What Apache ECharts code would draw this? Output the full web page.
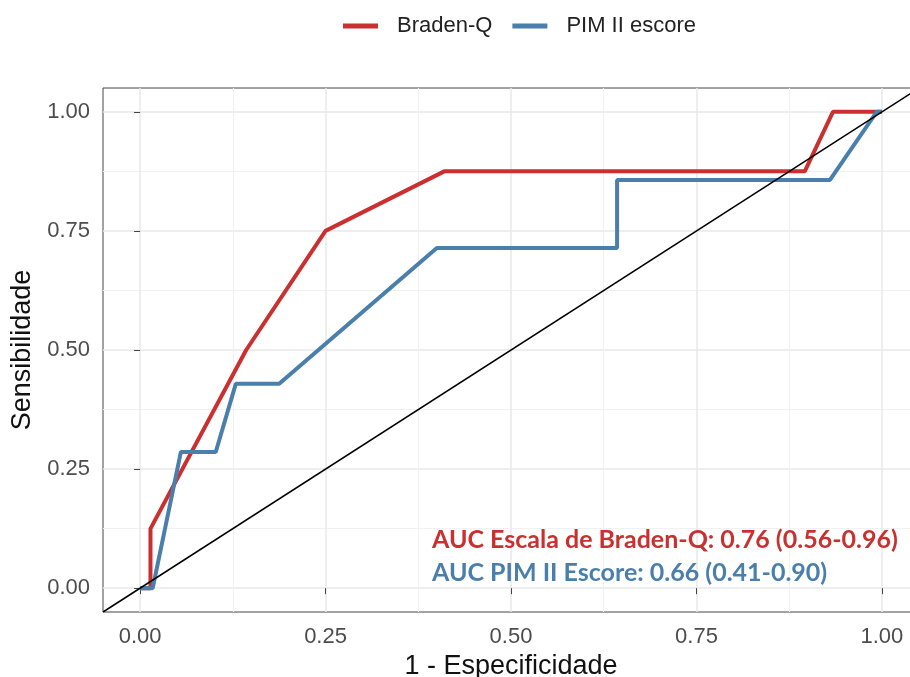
<!DOCTYPE html>
<html>
<head>
<meta charset="utf-8">
<style>
  html, body { margin: 0; padding: 0; background: #fff; }
  #roc_con { width: 910px; height: 677px; }
</style>
<script src="https://cdn.jsdelivr.net/npm/echarts@6/dist/echarts.min.js"></script>
</head>
<body>
<div id="roc_con"></div>
<script>
  // curva ROC
  var bradenX = [0, 0.014, 0.014, 0.143, 0.25, 0.41, 0.896, 0.934, 0.981, 1];
  var bradenY = [0, 0, 0.125, 0.5, 0.75, 0.875, 0.875, 1, 1, 1];
  var pimX = [0, 0.017, 0.055, 0.102, 0.129, 0.1875, 0.40, 0.643, 0.643, 0.930, 0.993, 1];
  var pimY = [0, 0, 0.286, 0.286, 0.429, 0.429, 0.714, 0.714, 0.857, 0.857, 1, 1];
  var refLine = [-0.05, 1.05];
  var majorTicks = [0, 0.25, 0.5, 0.75, 1];
  var minorTicks = [0.125, 0.375, 0.625, 0.875];
  var seriesNames = ['Braden-Q', 'PIM II escore'];
  var aucTexts = ['AUC Escala de Braden-Q: 0.76 (0.56-0.96)', 'AUC PIM II Escore: 0.66 (0.41-0.90)'];

  var red = '#C9302F';
  var blue = '#4A7FAB';

  function pairs(xs, ys) {
    let out = [];
    for (let i = 0; i < xs.length; i++) {
      out.push([xs[i], ys[i]]);
    }
    return out;
  }

  var chart = echarts.init(document.getElementById('roc_con'));

  var baseAxis = {
    type: 'value',
    min: -0.05,
    max: 1.05,
  };

  const option = {
    animation: false,
    grid: {
      left: 103,
      top: 88,
      right: -9,
      bottom: 65,
      show: true,
      borderColor: '#444',
      borderWidth: 1,
      outerBoundsMode: 'none'
    },
    legend: {
      data: seriesNames,
      left: 338,
      top: 10,
      itemWidth: 35,
      itemHeight: 5,
      itemGap: 20,
      icon: 'rect',
      textStyle: {
        fontFamily: 'Liberation Sans',
        fontSize: 22,
        color: '#222',
        padding: [0, 0, 0, 14]
      }
    },
    xAxis: [
      Object.assign({}, baseAxis, {
        name: '1 - Especificidade',
        nameLocation: 'middle',
        nameGap: 38,
        nameTextStyle: { fontFamily: 'Liberation Sans', fontSize: 27, color: '#111' },
        axisLine: { show: false },
        axisTick: { show: true, customValues: majorTicks, length: 6, lineStyle: { color: '#444' } },
        axisLabel: {
          customValues: majorTicks,
          margin: 14,
          fontFamily: 'Liberation Sans',
          fontSize: 22,
          color: '#4d4d4d',
          formatter: function (v) { return v.toFixed(2); }
        },
        splitLine: { show: true, lineStyle: { color: '#e8e8e8', width: 1.5 } }
      }),
      Object.assign({}, baseAxis, {
        position: 'bottom',
        axisLine: { show: false },
        axisTick: { show: false, customValues: minorTicks },
        axisLabel: { show: false, customValues: minorTicks },
        splitLine: { show: true, lineStyle: { color: '#f1f1f1', width: 1 } }
      })
    ],
    yAxis: [
      Object.assign({}, baseAxis, {
        name: 'Sensibilidade',
        nameLocation: 'middle',
        nameGap: 66,
        nameTextStyle: { fontFamily: 'Liberation Sans', fontSize: 27, color: '#111' },
        axisLine: { show: false },
        axisTick: { show: true, customValues: majorTicks, length: 6, lineStyle: { color: '#444' } },
        axisLabel: {
          customValues: majorTicks,
          margin: 13,
          fontFamily: 'Liberation Sans',
          fontSize: 22,
          color: '#4d4d4d',
          formatter: function (v) { return v.toFixed(2); }
        },
        splitLine: { show: true, lineStyle: { color: '#e8e8e8', width: 1.5 } }
      }),
      Object.assign({}, baseAxis, {
        position: 'left',
        axisLine: { show: false },
        axisTick: { show: false, customValues: minorTicks },
        axisLabel: { show: false, customValues: minorTicks },
        splitLine: { show: true, lineStyle: { color: '#f1f1f1', width: 1 } }
      })
    ],
    graphic: [
      {
        type: 'text',
        x: 432,
        y: 540,
        z: 100,
        style: {
          text: aucTexts[0],
          fill: red,
          font: 'bold 25px Lato',
          verticalAlign: 'middle'
        }
      },
      {
        type: 'text',
        x: 432,
        y: 573,
        z: 100,
        style: {
          text: aucTexts[1],
          fill: blue,
          font: 'bold 25px Lato',
          verticalAlign: 'middle'
        }
      }
    ],
    series: [
      {
        name: seriesNames[0],
        type: 'line',
        data: pairs(bradenX, bradenY),
        showSymbol: false,
        color: red,
        lineStyle: { width: 4, color: red },
        z: 3
      },
      {
        name: seriesNames[1],
        type: 'line',
        data: pairs(pimX, pimY),
        showSymbol: false,
        color: blue,
        lineStyle: { width: 4, color: blue },
        z: 4
      },
      {
        name: 'ref',
        type: 'line',
        data: pairs(refLine, refLine),
        showSymbol: false,
        color: '#000',
        lineStyle: { width: 1.5, color: '#000' },
        z: 5
      }
    ]
  };
  chart.setOption(option);
</script>
</body>
</html>
